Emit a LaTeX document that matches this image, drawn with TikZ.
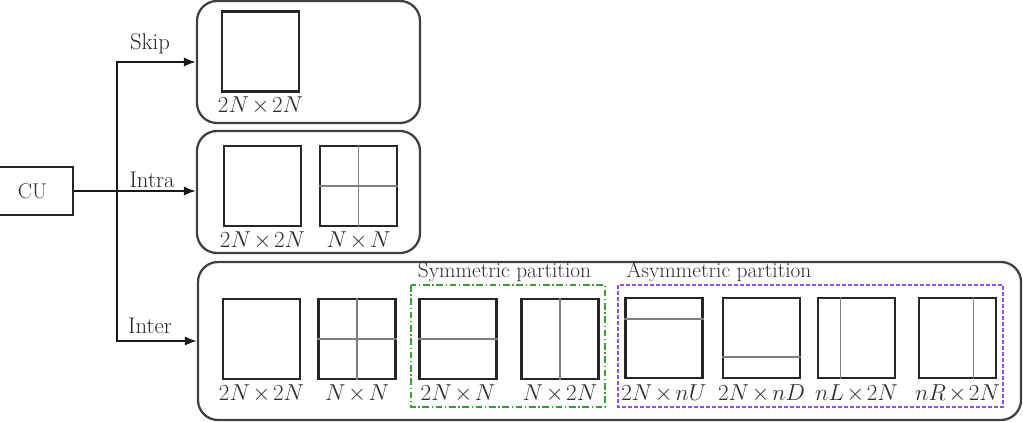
\documentclass[tikz,border=0pt]{standalone}
\usetikzlibrary{arrows.meta,calc}
\newcommand{\xx}{\mkern2mu{\times}\mkern2mu}
\definecolor{symgreen}{RGB}{50,160,50}
\definecolor{asympurple}{RGB}{140,80,240}
\begin{document}
\begin{tikzpicture}[x=0.75pt,y=-0.75pt,
  container/.style={draw=black!75, line width=1.7pt, rounded corners=15pt, inner sep=0pt},
  blk/.style={draw=black!85, line width=2.1pt, minimum width=57.75pt, minimum height=60pt, inner sep=0pt},
  part/.style={draw=black!50, line width=0.9pt},
  lbl/.style={font=\fontsize{17}{20}\selectfont, text=black!82, inner sep=0pt},
  grp/.style={font=\fontsize{16}{19}\selectfont, text=black!82, inner sep=0pt},
  br/.style={font=\fontsize{17}{20}\selectfont, text=black!85, inner sep=0pt},
  cubox/.style={draw=black!85, line width=1.6pt, minimum width=60.75pt, minimum height=36pt, inner sep=0pt, font=\fontsize{16}{19}\selectfont, text=black!82},
  arr/.style={-{Latex[length=9pt,width=7pt]}, line width=1.5pt, draw=black!90},
  symbox/.style={draw=symgreen, line width=1.6pt, dash pattern=on 5pt off 2pt on 1pt off 2pt},
  asymbox/.style={draw=asympurple, line width=1.6pt, dash pattern=on 3pt off 1.5pt},
]
\useasboundingbox (0,0) rectangle (1023,421);

% containers
\node[container, minimum width=167.25pt, minimum height=91.5pt] (skipbox) at (308.5,62) {};
\node[container, minimum width=167.25pt, minimum height=91.5pt] (intrabox) at (308.5,192) {};
\node[container, minimum width=617.25pt, minimum height=118.5pt] (interbox) at (609.5,341) {};

% CU
\node[cubox] (CU) at (32.5,191) {CU};
\coordinate (j) at (117,191);

% connectors
\draw[arr] (CU.east) -- (CU.east -| intrabox.west);
\draw[arr] (j) |- (skipbox.west);
\draw[arr] (j) |- (interbox.west);

% branch labels
\node[br] (lskip) at (150,43.5) {Skip};
\node[br] (lintra) at (152,180) {Intra};
\node[br] (linter) at (150,325.5) {Inter};

% skip
\node[blk] (k1) at (260.5,51.5) {};
\node[lbl] (k1l) at (260.5,106) {$2N\xx2N$};

% intra
\node[blk] (i1) at (262.5,186) {};
\node[blk] (i2) at (358.5,186) {};
\draw[part] (i2.north) -- (i2.south);
\draw[part] (i2.west) -- (i2.east);
\node[lbl] (i1l) at (262.5,241) {$2N\xx2N$};
\node[lbl] (i2l) at (358.5,241) {$N\xx N$};

% inter
\node[blk] (s1) at (261.5,339) {};
\node[blk] (s2) at (357,339) {};
\node[blk] (s3) at (458,339) {};
\node[blk] (s4) at (560,339) {};
\node[blk] (s5) at (664,338) {};
\node[blk] (s6) at (761.5,338) {};
\node[blk] (s7) at (856.5,338) {};
\node[blk] (s8) at (957.5,338) {};

\draw[part] (s2.north) -- (s2.south);
\draw[part] (s2.west) -- (s2.east);
\draw[part] (s3.west) -- (s3.east);
\draw[part] (s4.north) -- (s4.south);
\draw[part] ($(s5.north west)!0.27!(s5.south west)$) -- ($(s5.north east)!0.27!(s5.south east)$);
\draw[part] ($(s6.north west)!0.73!(s6.south west)$) -- ($(s6.north east)!0.73!(s6.south east)$);
\draw[part] ($(s7.north west)!0.3!(s7.north east)$) -- ($(s7.south west)!0.3!(s7.south east)$);
\draw[part] ($(s8.north west)!0.7!(s8.north east)$) -- ($(s8.south west)!0.7!(s8.south east)$);

\node[lbl] (s1l) at (261.5,393.5) {$2N\xx2N$};
\node[lbl] (s2l) at (357,393.5) {$N\xx N$};
\node[lbl] (s3l) at (458,393.5) {$2N\xx N$};
\node[lbl] (s4l) at (560,393.5) {$N\xx2N$};
\node[lbl] (s5l) at (664,393.5) {$2N\xx nU$};
\node[lbl] (s6l) at (761.5,393.5) {$2N\xx nD$};
\node[lbl] (s7l) at (856.5,393.5) {$nL\xx2N$};
\node[lbl] (s8l) at (957.5,393.5) {$nR\xx2N$};

% partition groups
\draw[symbox] (411,285) rectangle (605,407);
\draw[asymbox] (618,285) rectangle (1003,407);
\node[grp] (symt) at (504.5,272.5) {Symmetric partition};
\node[grp] (asymt) at (719,272.5) {Asymmetric partition};
\end{tikzpicture}
\end{document}
